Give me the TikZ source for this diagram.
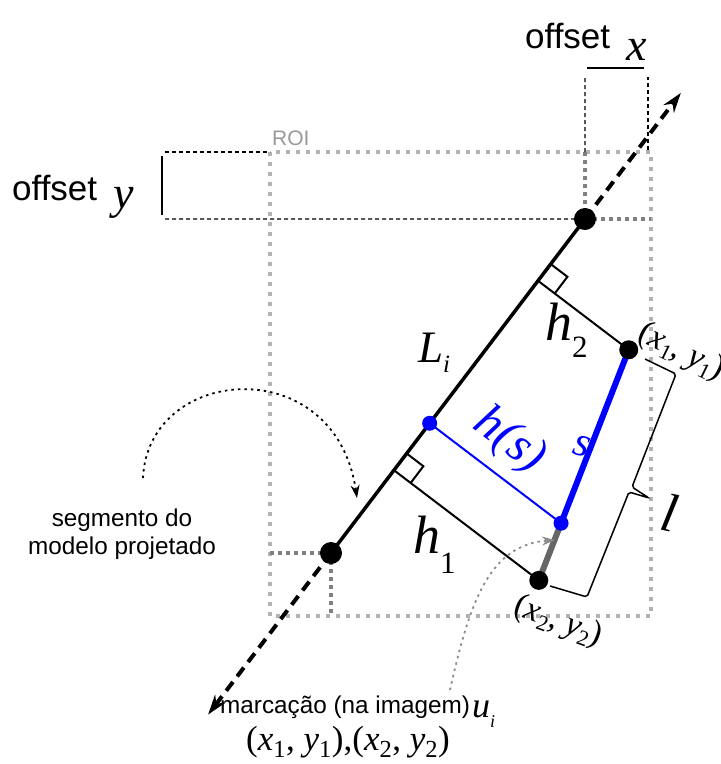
\documentclass[tikz,border=0pt]{standalone}
\usepackage{fontspec}
\setmainfont{Liberation Serif}
\setsansfont{Liberation Sans}
\usetikzlibrary{
    arrows.meta,
    calc
}
\tikzset{
    roi/.style={draw=black!30, line width=4pt, dash pattern=on 4pt off 6pt},
    offsetguide/.style={draw=black!50, line width=4pt, dash pattern=on 4pt off 4pt},
    measure/.style={line width=1.2pt, dash pattern=on 4pt off 3pt},
    dimbar/.style={line width=1.5pt},
    modelline/.style={line width=3.5pt},
    extension/.style={line width=4pt, dash pattern=on 11pt off 7pt,
        -{Stealth[length=20pt, width=13pt]}},
    perp/.style={line width=2pt},
    endpoint/.style={circle, fill=black, inner sep=0pt, minimum size=22pt},
    markpoint/.style={circle, fill=black, inner sep=0pt, minimum size=19pt},
    bluepoint/.style={circle, fill=blue, inner sep=0pt, minimum size=15pt},
    pointer/.style={line width=1.8pt, dash pattern=on 2.5pt off 4pt},
    note/.style={font=\sffamily\fontsize{24.3}{27.5}\selectfont, align=center},
    sym/.style={font=\fontsize{#1}{#1}\selectfont\itshape, inner sep=0pt}
}
\newcommand{\dropsub}[3]{\raisebox{#1}{\fontsize{#2}{#2}\selectfont #3}}

\begin{document}
\begin{tikzpicture}[x=1pt, y=-1pt]
    \useasboundingbox (0,0) rectangle (721,764);
    % region of interest
    \coordinate (roiNW) at (270,152);
    \coordinate (roiSE) at (651,616);
    \draw[roi] (roiNW) rectangle (roiSE);
    \node[anchor=base west, inner sep=0pt, text=black!40,
        font=\sffamily\fontsize{21}{21}\selectfont] (roilabel) at (272,145) {ROI};
    % projected model segment, in its own frame
    \begin{scope}[shift={(331,553)}, rotate=52.75]
        \coordinate (B) at (0,0);
        \coordinate (A) at (419.6,0);
        \coordinate (tipA) at (578,0);
        \coordinate (tipB) at (-203,0);
        \coordinate (F2) at (342,0);
        \coordinate (P1) at (342,114);
        \coordinate (Fs) at (163,0);
        \coordinate (Q) at (163,165.1);
        \coordinate (F1) at (104,0);
        \coordinate (P2) at (104,182);
        \draw[perp] (363,0) -- (363,21) -- (342,21);
        \draw[perp] (125,0) -- (125,21) -- (104,21);
    \end{scope}
    % offsets
    \draw[offsetguide] (A) -- (A -| roiSE);
    \draw[offsetguide] (A |- roiNW) -- (A);
    \draw[offsetguide] (B -| roiNW) -- (B);
    \draw[offsetguide] (B) -- (B |- roiSE);
    \draw[measure] (165,152) -- (roiNW);
    \draw[measure] (165,219) -- (A);
    \draw[measure] (A |- roiNW) -- (585,77);
    \draw[measure] (648,150) -- (648,77);
    \draw[dimbar] (587,68) -- (644,68);
    \draw[dimbar] (162,156) -- (162,215);
    \node[anchor=base west, inner sep=0pt,
        font=\sffamily\fontsize{35}{35}\selectfont] (offx) at (525,48) {offset};
    \node[sym=46, anchor=base west] (offxsym) at (626,60) {x};
    \node[anchor=base west, inner sep=0pt,
        font=\sffamily\fontsize{35}{35}\selectfont] (offy) at (12,200) {offset};
    \node[sym=46, anchor=base west] (offysym) at (113,208) {y};
    % model line and its extensions
    \draw[extension] (A) -- (tipA);
    \draw[extension] (B) -- (tipB);
    \draw[modelline] (B) -- (A);
    % distances to the marking
    \draw[perp] (F2) -- (P1);
    \draw[perp] (F1) -- (P2);
    \draw[perp, blue] (Fs) -- (Q);
    \draw[line width=6pt, blue] (P1) -- (Q);
    \draw[line width=6pt, black!60] (Q) -- (P2);
    \draw[line width=1.5pt, rounded corners=2pt] (645,359) -- (676,374) -- (632,487)
        -- (649,498) -- (629,492) -- (587,597) -- (550,586);
    \node[endpoint] (ptA) at (A) {};
    \node[endpoint] (ptB) at (B) {};
    \node[markpoint] (pt1) at (P1) {};
    \node[markpoint] (pt2) at (P2) {};
    \node[bluepoint] (ptS) at (Fs) {};
    \node[bluepoint] (ptQ) at (Q) {};
    % labels
    \node[sym=45, anchor=base west] (Li) at (418,362) {L\dropsub{-10pt}{25}{i}};
    \node[sym=54, anchor=base west] (h2) at (545,340) {h\dropsub{-17pt}{31}{\upshape 2}};
    \node[sym=54, anchor=base west] (h1) at (413,553) {h\dropsub{-20pt}{31}{\upshape 1}};
    \node[sym=49, text=blue, rotate=-37] (hs) at (509,441) {h(s)};
    \node[sym=42, text=blue, rotate=-15] (slab) at (582,446) {s};
    \node[sym=54, rotate=-12] (llab) at (670,513) {l};
    \node[font=\fontsize{34}{34}\selectfont, rotate=-26, inner sep=0pt] (p1lab) at (681,352)
        {(\textit{x}\dropsub{-6pt}{22}{1}, \textit{y}\dropsub{-6pt}{22}{1})};
    \node[font=\fontsize{34}{34}\selectfont, rotate=-20, inner sep=0pt] (p2lab) at (558,622)
        {(\textit{x}\dropsub{-6pt}{22}{2}, \textit{y}\dropsub{-6pt}{22}{2})};
    % annotations
    \node[note] (segnote) at (122,534) {segmento do\\modelo projetado};
    \draw[pointer, -{Stealth[length=13pt, width=9pt]}] (143,478)
        .. controls (148,365) and (335,350) .. (357,498);
    \node[note, anchor=base west, inner sep=0pt] (marknote) at (220,713) {marcação (na imagem)};
    \node[sym=36, anchor=base west] (ui) at (472,717) {u\dropsub{-10pt}{18}{i}};
    \node[font=\fontsize{35}{35}\selectfont] (pairs) at (348,742)
        {(\textit{x}\textsubscript{1}, \textit{y}\textsubscript{1}),(\textit{x}\textsubscript{2}, \textit{y}\textsubscript{2})};
    \draw[pointer, black!45, -{Stealth[length=13pt, width=9pt]}] (450,690)
        .. controls (470,600) and (490,545) .. (555,540);
\end{tikzpicture}
\end{document}
